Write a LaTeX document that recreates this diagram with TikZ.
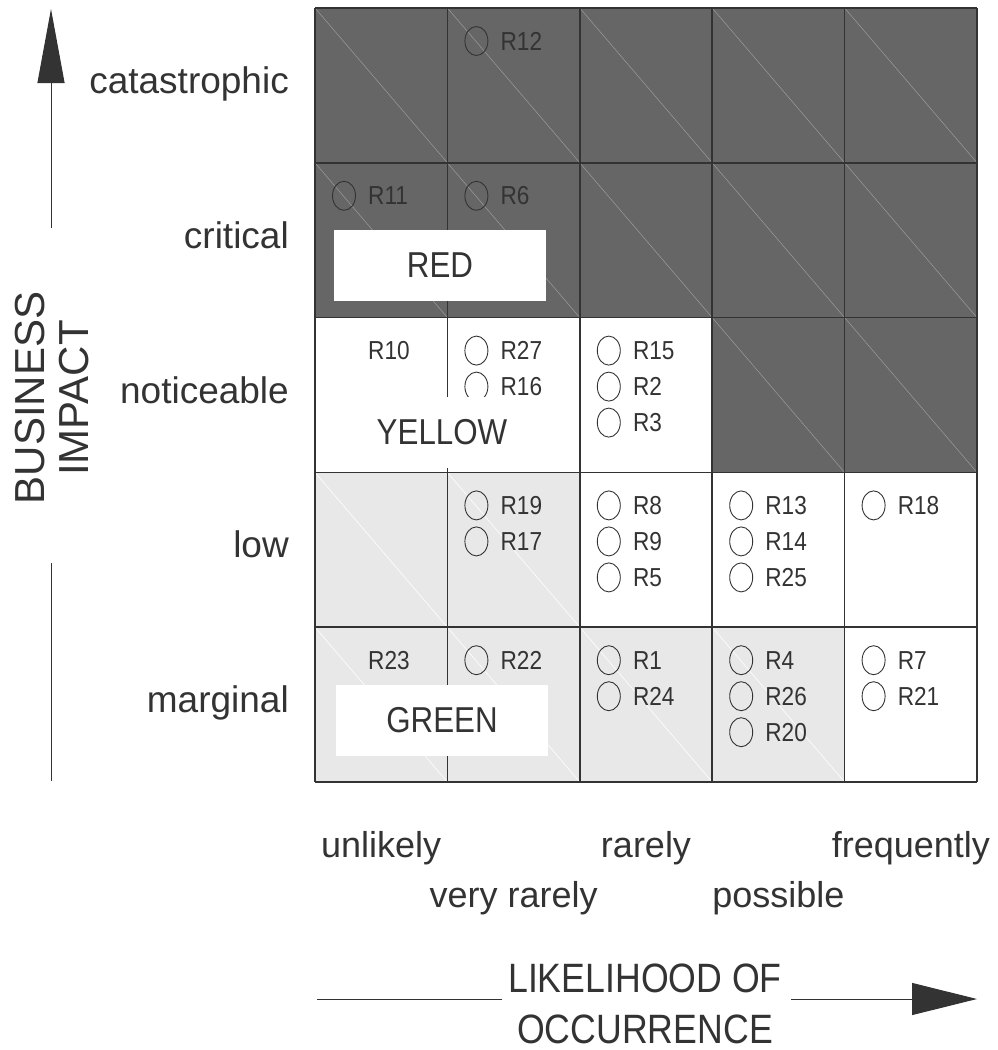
\documentclass[tikz,border=0pt]{standalone}
\usepackage{fontspec}
\setmainfont{Liberation Sans}
\newfontfamily\narrowsans{Liberation Sans}[FakeStretch=0.87]
\usetikzlibrary{arrows.meta}

\definecolor{inkgray}{HTML}{333333}
\definecolor{redzone}{HTML}{666666}
\definecolor{greenzone}{HTML}{E8E8E8}
\definecolor{hatchgray}{HTML}{9C9C9C}

\tikzset{
  cellline/.style={draw=inkgray, line width=1.6pt},
  riskring/.style={draw=inkgray, line width=0.9pt},
  risklabel/.style={anchor=base west, inner sep=0pt, text=inkgray, font=\narrowsans\fontsize{26}{26}\selectfont},
  zonebox/.style={fill=white, minimum width=212pt, minimum height=71pt, inner sep=0pt, text=inkgray, font=\narrowsans\fontsize{36}{40}\selectfont},
  impactlabel/.style={anchor=base east, inner sep=0pt, text=inkgray, font=\fontsize{37}{40}\selectfont},
  ratelabel/.style={anchor=base, inner sep=0pt, text=inkgray, font=\fontsize{36}{40}\selectfont},
  axisline/.style={draw=inkgray, line width=1pt},
}

% one risk in a cell: column, row, slot, name
\newcommand\riskmark[4]{%
  \pgfmathsetmacro\cellx{315+132.4*#1}
  \pgfmathsetmacro\celly{8+154.8*#2+33+36*#3}
  \draw[riskring] (\cellx+29,\celly) ellipse (11.5pt and 14.5pt);
  \node[risklabel] (#4) at (\cellx+53,\celly+9) {#4};
}
% same, without the ring
\newcommand\risktext[4]{%
  \pgfmathsetmacro\cellx{315+132.4*#1}
  \pgfmathsetmacro\celly{8+154.8*#2+33+36*#3}
  \node[risklabel] (#4) at (\cellx+53,\celly+9) {#4};
}

\begin{document}
\begin{tikzpicture}[x=1pt, y=-1pt]
\useasboundingbox (0,0) rectangle (998,1050);

% red cells
\foreach \c/\r in {0/0,1/0,2/0,3/0,4/0,0/1,1/1,2/1,3/1,4/1,3/2,4/2} {
  \fill[redzone] (315+132.4*\c,8+154.8*\r) rectangle ++(132.4,154.8);
  \draw[hatchgray, line width=0.5pt] (315+132.4*\c,8+154.8*\r) -- ++(132.4,154.8);
}
% green cells
\foreach \c/\r in {0/3,1/3,0/4,1/4,2/4,3/4} {
  \fill[greenzone] (315+132.4*\c,8+154.8*\r) rectangle ++(132.4,154.8);
  \draw[white, line width=0.6pt] (315+132.4*\c,8+154.8*\r) -- ++(132.4,154.8);
}
% grid
\foreach \i in {0,...,5} {
  \draw[cellline] (315+132.4*\i,8) -- (315+132.4*\i,782);
  \draw[cellline] (315,8+154.8*\i) -- (977,8+154.8*\i);
}

% risks
\riskmark{1}{0}{0}{R12}
\riskmark{0}{1}{0}{R11}
\riskmark{1}{1}{0}{R6}
\risktext{0}{2}{0}{R10}
\riskmark{1}{2}{0}{R27}
\riskmark{1}{2}{1}{R16}
\riskmark{2}{2}{0}{R15}
\riskmark{2}{2}{1}{R2}
\riskmark{2}{2}{2}{R3}
\riskmark{1}{3}{0}{R19}
\riskmark{1}{3}{1}{R17}
\riskmark{2}{3}{0}{R8}
\riskmark{2}{3}{1}{R9}
\riskmark{2}{3}{2}{R5}
\riskmark{3}{3}{0}{R13}
\riskmark{3}{3}{1}{R14}
\riskmark{3}{3}{2}{R25}
\riskmark{4}{3}{0}{R18}
\risktext{0}{4}{0}{R23}
\riskmark{1}{4}{0}{R22}
\riskmark{2}{4}{0}{R1}
\riskmark{2}{4}{1}{R24}
\riskmark{3}{4}{0}{R4}
\riskmark{3}{4}{1}{R26}
\riskmark{3}{4}{2}{R20}
\riskmark{4}{4}{0}{R7}
\riskmark{4}{4}{1}{R21}

% zone names
\node[zonebox] (redbox) at (440,265) {RED};
\node[zonebox] (yellowbox) at (442,432.5) {YELLOW};
\node[zonebox] (greenbox) at (442,720) {GREEN};

% impact scale
\node[impactlabel] (catastrophic) at (289,93.4) {catastrophic};
\node[impactlabel] (critical) at (289,248.2) {critical};
\node[impactlabel] (noticeable) at (289,403) {noticeable};
\node[impactlabel] (low) at (289,557.8) {low};
\node[impactlabel] (marginal) at (289,712.6) {marginal};
\node[rotate=90, align=center, inner sep=0pt, text=inkgray, font=\fontsize{42}{44}\selectfont] (impact) at (52,398) {BUSINESS\\IMPACT};
\coordinate (impacttip) at (51,9);
\coordinate (impactstem) at (51,228);
\coordinate (impactfoot) at (51,563);
\coordinate (impactbase) at (51,781);
\draw[axisline, -{Triangle[length=74pt, width=27pt]}] (impactstem) -- (impacttip);
\draw[axisline] (impactfoot) -- (impactbase);

% likelihood scale
\node[ratelabel] (unlikely) at (381.2,857) {unlikely};
\node[ratelabel] (veryrarely) at (513.6,907) {very rarely};
\node[ratelabel] (rarely) at (646,857) {rarely};
\node[ratelabel] (possible) at (778.4,907) {possible};
\node[ratelabel] (frequently) at (910.8,857) {frequently};
\node[anchor=base, align=center, inner sep=0pt, text=inkgray, font=\narrowsans\fontsize{41}{51}\selectfont] (likelihood) at (645,1043) {LIKELIHOOD OF\\OCCURRENCE};
\coordinate (likelytail) at (317,999);
\coordinate (likelygap) at (502,999);
\coordinate (likelyresume) at (791,999);
\coordinate (likelytip) at (977,999);
\draw[axisline] (likelytail) -- (likelygap);
\draw[axisline, -{Triangle[length=65pt, width=32pt]}] (likelyresume) -- (likelytip);
\end{tikzpicture}
\end{document}
